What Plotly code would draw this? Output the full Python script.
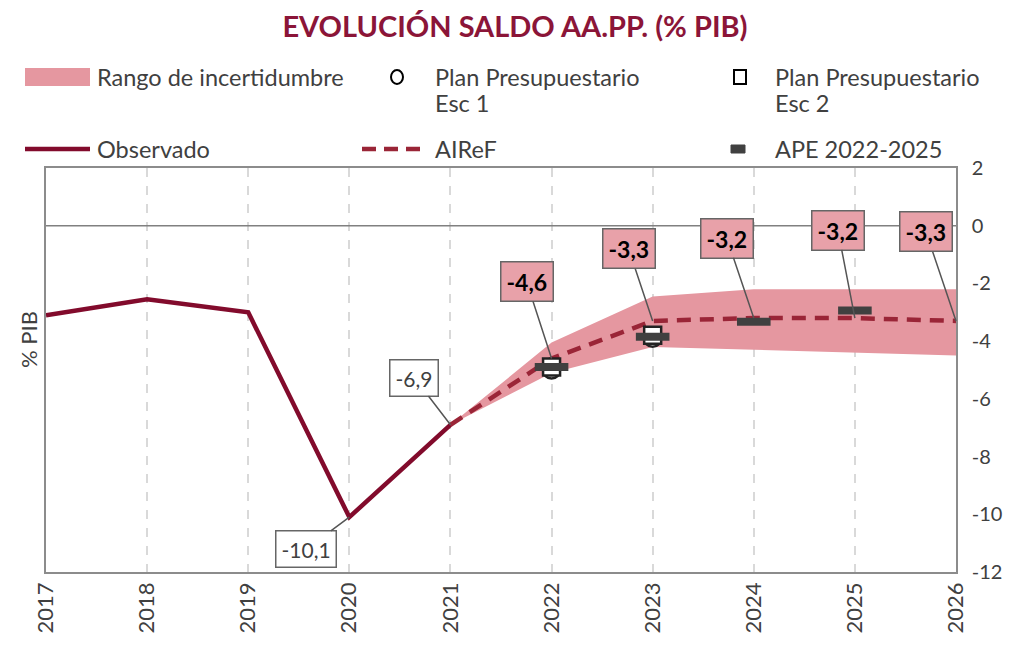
import plotly.graph_objects as go

years_obs = [2017, 2018, 2019, 2020, 2021]
observado = [-3.1, -2.55, -3.0, -10.1, -6.9]

years_proj = [2021, 2022, 2023, 2024, 2025, 2026]
airef = [-6.9, -4.6, -3.3, -3.2, -3.2, -3.3]
band_upper = [-6.9, -4.05, -2.45, -2.2, -2.2, -2.2]
band_lower = [-6.9, -5.1, -4.2, -4.3, -4.4, -4.5]

years_plan = [2022, 2023]
plan_esc1 = [-5.0, -3.9]
plan_esc2 = [-4.9, -3.8]

years_ape = [2022, 2023, 2024, 2025]
ape = [-4.9, -3.85, -3.33, -2.94]

xticks = list(range(2017, 2027))
yticks = [2, 0, -2, -4, -6, -8, -10, -12]

FONT = "Lato"
GRAY = "#404040"
RED_DARK = "#820B2C"
RED_DASH = "#9A2537"
BAND = "#E597A0"
BOX = "#E8A1A9"

fig = go.Figure()
fig.add_trace(go.Scatter(x=years_proj, y=band_upper, mode="lines", line=dict(width=0),
                         showlegend=False, hoverinfo="skip"))
fig.add_trace(go.Scatter(x=years_proj, y=band_lower, mode="lines", line=dict(width=0),
                         fill="tonexty", fillcolor=BAND, showlegend=False, hoverinfo="skip"))
fig.add_trace(go.Scatter(x=years_obs, y=observado, mode="lines",
                         line=dict(color=RED_DARK, width=4.5), showlegend=False))
fig.add_trace(go.Scatter(x=years_proj, y=airef, mode="lines",
                         line=dict(color=RED_DASH, width=4.5, dash="14px,9px"), showlegend=False))
fig.add_trace(go.Scatter(x=years_plan, y=plan_esc1, mode="markers",
                         marker=dict(symbol="circle", size=17, color="white",
                                     line=dict(color="#222222", width=2.5)), showlegend=False))
fig.add_trace(go.Scatter(x=years_plan, y=plan_esc2, mode="markers",
                         marker=dict(symbol="square", size=17, color="white",
                                     line=dict(color="#222222", width=2.5)), showlegend=False))
fig.add_trace(go.Scatter(x=years_ape, y=ape, mode="markers",
                         marker=dict(symbol="line-ew-open", size=24, color=GRAY,
                                     line=dict(color=GRAY, width=8)), showlegend=False))

# value labels
bold_labels = [
    (2022, -4.6, "-4,6", -25, -77),
    (2023, -3.3, "-3,3", -24, -72),
    (2024, -3.2, "-3,2", -27, -80),
    (2025, -3.2, "-3,2", -17, -88),
    (2026, -3.3, "-3,3", -30, -89),
]
for x, y, t, ax, ay in bold_labels:
    fig.add_annotation(x=x, y=y, text="<b>%s</b>" % t, showarrow=True, arrowhead=0,
                       arrowwidth=1.5, arrowcolor="#555555", ax=ax, ay=ay,
                       font=dict(family=FONT, size=23, color="black"),
                       bgcolor=BOX, bordercolor="#666666", borderwidth=1.5, borderpad=5)
plain_labels = [
    (2021, -6.9, "-6,9", -36, -47),
    (2020, -10.1, "-10,1", -43, 32),
]
for x, y, t, ax, ay in plain_labels:
    fig.add_annotation(x=x, y=y, text=t, showarrow=True, arrowhead=0,
                       arrowwidth=1.5, arrowcolor="#555555", ax=ax, ay=ay,
                       font=dict(family=FONT, size=21, color=GRAY),
                       bgcolor="white", bordercolor="#666666", borderwidth=1.5, borderpad=5)

# page offset (body margin) compensation: reference pixel -> paper coords
OFF = 8
L, T, W, H = 46, 168, 910, 404
def px(v):
    return (v - L) / float(W)
def py(v):
    return (T + H - v) / float(H)

# axis title on the left
fig.add_annotation(xref="paper", yref="paper", x=px(28), y=py(340), text="% PIB", textangle=-90,
                   showarrow=False, font=dict(family=FONT, size=22, color=GRAY),
                   xanchor="center", yanchor="middle")

# zero line
fig.add_shape(type="line", xref="paper", x0=0, x1=1, yref="y", y0=0, y1=0,
              line=dict(color="#808080", width=1.5))

# manual legend
fig.add_shape(type="rect", xref="paper", yref="paper", x0=px(25), x1=px(90), y0=py(86), y1=py(68),
              line=dict(width=0), fillcolor=BAND)
fig.add_shape(type="circle", xref="paper", yref="paper", x0=px(391), x1=px(403), y0=py(84), y1=py(70),
              line=dict(color="black", width=2), fillcolor="white")
fig.add_shape(type="rect", xref="paper", yref="paper", x0=px(734), x1=px(746), y0=py(84), y1=py(70),
              line=dict(color="black", width=2), fillcolor="white")
fig.add_shape(type="line", xref="paper", yref="paper", x0=px(25), x1=px(90), y0=py(149), y1=py(149),
              line=dict(color=RED_DARK, width=4.5))
fig.add_shape(type="line", xref="paper", yref="paper", x0=px(362), x1=px(426), y0=py(149), y1=py(149),
              line=dict(color=RED_DASH, width=4.5, dash="14px,8px"))
fig.add_shape(type="rect", xref="paper", yref="paper", x0=px(731), x1=px(745), y0=py(153), y1=py(145),
              line=dict(color=GRAY, width=1), fillcolor=GRAY)

leg_font = dict(family=FONT, size=23.5, color=GRAY)
for x, y, t in [(95, 77, "Rango de incertidumbre"),
                (433, 77, "Plan Presupuestario"), (433, 103, "Esc 1"),
                (773, 77, "Plan Presupuestario"), (773, 103, "Esc 2"),
                (95, 149, "Observado"), (433, 149, "AIReF"), (773, 149, "APE 2022-2025")]:
    fig.add_annotation(xref="paper", yref="paper", x=px(x), y=py(y), text=t, showarrow=False,
                       xanchor="left", yanchor="middle", font=leg_font)

fig.update_layout(
    width=1015, height=645,
    margin=dict(l=L - OFF, r=1015 - (L - OFF) - W, t=T - OFF, b=645 - (T - OFF) - H),
    paper_bgcolor="white", plot_bgcolor="white",
    title=dict(text="<b>EVOLUCIÓN SALDO AA.PP. (% PIB)</b>", x=(515 - OFF) / 1015.0,
               xanchor="center", y=1 - (27 - OFF) / 645.0, yanchor="middle",
               font=dict(family=FONT, size=29, color="#8B1538")),
    xaxis=dict(range=[2017, 2026], tickvals=xticks, ticktext=[str(v) for v in xticks],
               tickangle=-90, tickfont=dict(family=FONT, size=22, color=GRAY),
               showgrid=True, gridcolor="#D9D9D9", griddash="dash", gridwidth=1.5,
               showline=True, linecolor="#8C8C8C", linewidth=1.5, mirror=True,
               zeroline=False, ticks=""),
    yaxis=dict(range=[-12, 2], tickvals=yticks, ticktext=[str(v) for v in yticks],
               side="right", tickfont=dict(family=FONT, size=20, color=GRAY),
               ticklabelstandoff=10,
               showgrid=False, zeroline=False,
               showline=True, linecolor="#8C8C8C", linewidth=1.5, mirror=True, ticks=""),
    showlegend=False,
)

fig.write_html("out.html")
